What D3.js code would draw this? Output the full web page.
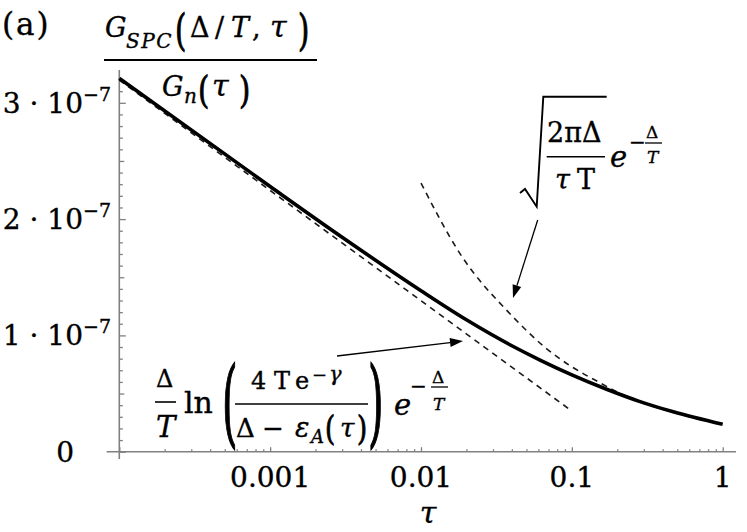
<!DOCTYPE html>
<html>
<head>
<meta charset="utf-8">
<script src="https://cdn.jsdelivr.net/npm/d3@7"></script>
<style>
  body{ margin:0; background:#fff; }
  text{ font-family:"DejaVu Serif", serif; fill:#000; stroke:#000; stroke-width:0.35px; }
  text.par{ stroke-width:0.7px; }
  .axis line{ stroke:#808080; stroke-width:1.3; }
  .axis path{ display:none; }
</style>
</head>
<body>
<script>
// values, y in units of 1e-7
var tauSolid = [1e-4, 1e-3, 3e-3, 0.01, 0.02, 0.04, 0.062, 0.10, 0.17, 0.28, 0.47, 1];
var gSolid   = [3.21, 2.28, 1.844, 1.384, 1.134, 0.911, 0.786, 0.661, 0.537, 0.433, 0.343, 0.235];

var tauLog = [1e-4, 0.1];
var gLog   = [3.195, 0.35];

var tauSqrt = [0.01, 0.018, 0.04, 0.066, 0.10, 0.15, 0.23, 0.47, 1];
var gSqrt   = [2.31, 1.71, 1.17, 0.90, 0.73, 0.60, 0.475, 0.34, 0.233];

var xTicks = [0.001, 0.01, 0.1, 1];
var xTickLabels = ["0.001", "0.01", "0.1", "1"];
var yTicks = [0, 1, 2, 3];
var yTickLabels = ["0", "1", "2", "3"];

var width = 747,
    height = 532;

var svg = d3.select("body")
  .append("svg")
  .attr("width", width)
  .attr("height", height);

var x = d3.scaleLog()
  .domain([1e-4, 1])
  .range([119.3, 722.7]);

var y = d3.scaleLinear()
  .domain([0, 3])
  .range([451.7, 102.8]);

// minor ticks
var xMinor = [];
[1e-4, 1e-3, 1e-2, 1e-1].forEach(function(d) {
  for (var k = 2; k <= 9; k++) xMinor.push(d * k);
});
var yMinor = [], yMid = [];
for (var i = 1; i <= 32; i++) {
  if (i % 10 == 0) continue;
  if (i % 5 == 0) yMid.push(i / 10); else yMinor.push(i / 10);
}

var axes = svg.append("g").attr("class", "axis");

axes.append("g")
  .attr("transform", "translate(0," + y(0) + ")")
  .call(d3.axisBottom(x).tickValues(xMinor).tickSize(-2.5).tickFormat(""));
axes.append("g")
  .attr("transform", "translate(0," + y(0) + ")")
  .call(d3.axisBottom(x).tickValues([1e-4].concat(xTicks)).tickSize(-4.5).tickFormat(""));

axes.append("g")
  .attr("transform", "translate(" + x(1e-4) + ",0)")
  .call(d3.axisLeft(y).tickValues(yMinor).tickSize(-3.5).tickFormat(""));
axes.append("g")
  .attr("transform", "translate(" + x(1e-4) + ",0)")
  .call(d3.axisLeft(y).tickValues(yMid).tickSize(-5).tickFormat(""));
axes.append("g")
  .attr("transform", "translate(" + x(1e-4) + ",0)")
  .call(d3.axisLeft(y).tickValues(yTicks).tickSize(-6.5).tickFormat(""));

// axis lines
axes.append("line")
  .attr("x1", 106.7).attr("x2", 736)
  .attr("y1", y(0)).attr("y2", y(0))
  .style("stroke-width", 1.6);
axes.append("line")
  .attr("x1", x(1e-4)).attr("x2", x(1e-4))
  .attr("y1", 70).attr("y2", 459)
  .style("stroke-width", 1.6);

// tick labels
svg.selectAll(".xlab")
  .data(xTicks)
  .enter()
  .append("text")
  .attr("class", "xlab")
  .attr("x", d => x(d))
  .attr("y", 487)
  .attr("text-anchor", "middle")
  .style("font-size", "28px")
  .text((d, i) => xTickLabels[i]);

yTicks.forEach(function(d, i) {
  var t = svg.append("text")
    .attr("y", y(d) + 10)
    .attr("text-anchor", "end")
    .style("font-size", "28px");
  if (d == 0) {
    t.attr("x", 74).text(yTickLabels[i]);
  } else {
    t.attr("x", 111);
    t.append("tspan").text(yTickLabels[i] + " \u00b7 10");
    t.append("tspan").attr("dy", -12).style("font-size", "19px").text("\u22127");
  }
});

// curves
var line = d3.line()
  .x(d => x(d[0]))
  .y(d => y(d[1]))
  .curve(d3.curveMonotoneX);

svg.append("path")
  .datum(d3.zip(tauLog, gLog))
  .attr("d", line)
  .attr("fill", "none")
  .attr("stroke", "#1a1a1a")
  .attr("stroke-width", 1.6)
  .attr("stroke-dasharray", "6,5");

svg.append("path")
  .datum(d3.zip(tauSqrt, gSqrt))
  .attr("d", line)
  .attr("fill", "none")
  .attr("stroke", "#1a1a1a")
  .attr("stroke-width", 1.6)
  .attr("stroke-dasharray", "6,5");

svg.append("path")
  .datum(d3.zip(tauSolid, gSolid))
  .attr("d", line)
  .attr("fill", "none")
  .attr("stroke", "#000")
  .attr("stroke-width", 3.6)
  .attr("stroke-linecap", "butt");

// --- text helpers for the formulas
function tx(px, py, s, size, it) {
  var t = svg.append("text")
    .attr("x", px).attr("y", py)
    .style("font-size", size + "px")
    .text(s);
  if (it) t.style("font-style", "italic");
  return t;
}
function paren(px, py, s, size, sy) {
  svg.append("text")
    .attr("class", "par")
    .attr("transform", "translate(" + px + "," + py + ") scale(1," + sy + ")")
    .style("font-size", size + "px")
    .text(s);
}
function bar(x1, x2, py, w) {
  svg.append("line")
    .attr("x1", x1).attr("x2", x2)
    .attr("y1", py).attr("y2", py)
    .attr("stroke", "#000")
    .attr("stroke-width", w || 1.6);
}
function arrow(x1, y1, x2, y2) {
  var a = Math.atan2(y2 - y1, x2 - x1), L = 13, W = 4.5;
  var bx = x2 - L * Math.cos(a), by = y2 - L * Math.sin(a);
  svg.append("line")
    .attr("x1", x1).attr("y1", y1).attr("x2", bx).attr("y2", by)
    .attr("stroke", "#000").attr("stroke-width", 1.3);
  svg.append("path")
    .attr("d", "M" + x2 + "," + y2 +
      "L" + (bx + W * Math.sin(a)) + "," + (by - W * Math.cos(a)) +
      "L" + (bx - W * Math.sin(a)) + "," + (by + W * Math.cos(a)) + "Z")
    .attr("fill", "#000");
}

// panel label and y title
tx(2, 35, "(a)", 31).style("letter-spacing", "2px");

tx(105, 37, "G", 27, true);
tx(126, 48, "SPC", 20, true).style("letter-spacing", "1.5px");
paren(175, 44.5, "(", 29, 1.45);
tx(190, 37, "\u0394", 27);
tx(215, 37, "/", 27);
tx(231, 37, "T", 27, true);
tx(252, 37, ",", 27);
tx(270, 37, "\u03c4", 30, true);
paren(298, 44.5, ")", 29, 1.45);
bar(104, 317, 60, 2);
tx(162, 96, "G", 27, true);
tx(184, 103, "n", 20, true);
paren(198, 103, "(", 29, 1.3);
tx(212, 96, "\u03c4", 30, true);
paren(239, 103, ")", 29, 1.3);

// x title
tx(428, 523, "\u03c4", 30, true).attr("text-anchor", "middle");

// sqrt asymptote label
svg.append("path")
  .attr("d", "M520,193L525,189L536.7,206.7L543.3,96.7L606.7,96.7")
  .attr("fill", "none")
  .attr("stroke", "#000")
  .attr("stroke-width", 1.9);
tx(547, 142, "2\u03c0\u0394", 27);
bar(546.7, 605, 156.7);
tx(555, 189, "\u03c4", 27, true);
tx(577, 189, "T", 27);
tx(610, 167, "e", 29, true);
tx(629, 149, "\u2212", 20);
tx(646, 138, "\u0394", 17);
bar(645, 662, 143, 1.3);
tx(647, 163, "T", 17, true);
arrow(537.7, 220, 513, 298);

// log asymptote label
tx(156, 387, "\u0394", 24);
bar(155, 176, 402);
tx(156, 437, "T", 29, true);
tx(184, 413, "ln", 30);
paren(222, 435, "(", 40, 2.4);
tx(251, 389, "4", 24);
tx(274, 389, "T", 24);
tx(295, 389, "e", 24);
tx(312, 381, "\u2212", 18);
tx(329, 381, "\u03b3", 21, true);
bar(235, 368, 404);
tx(236, 437, "\u0394", 26);
tx(262, 437, "\u2212", 26);
tx(295, 437, "\u03b5", 27, true);
tx(311, 443, "A", 18, true);
paren(325, 440, "(", 26, 1.3);
tx(340, 437, "\u03c4", 26, true);
paren(357, 440, ")", 26, 1.3);
paren(368, 435, ")", 40, 2.4);
tx(394, 415, "e", 29, true);
tx(410, 393, "\u2212", 20);
tx(432, 383, "\u0394", 17);
bar(431, 448, 387, 1.3);
tx(433, 410, "T", 17, true);
arrow(337, 356, 463, 341);
</script>
</body>
</html>
